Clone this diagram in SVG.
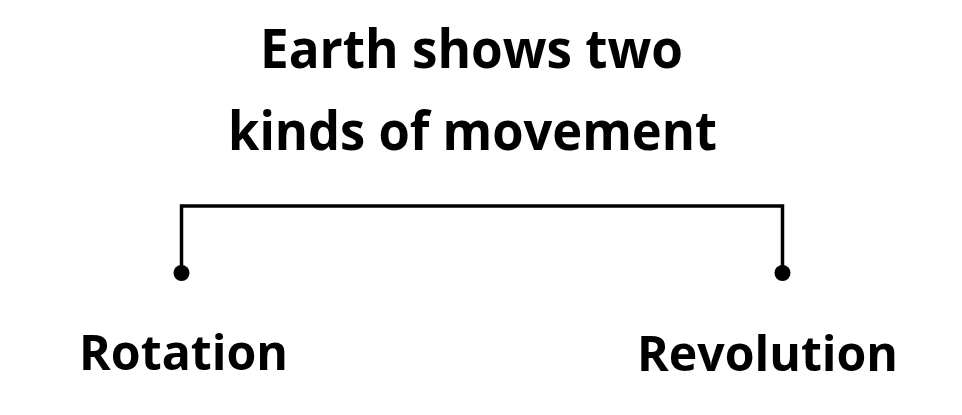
<svg xmlns="http://www.w3.org/2000/svg" width="962" height="415" viewBox="0 0 962 415">
<style>
.t{font-family:"Open Sans","Liberation Sans",sans-serif;font-weight:700;fill:#000;}
.c{fill:none;stroke:#000;stroke-width:3.5;stroke-linecap:square;}
.d{fill:#000;}
</style>
<rect width="962" height="415" fill="#fff"/>
<g id="title">
<text class="t" x="260" y="68" font-size="54" textLength="423" lengthAdjust="spacingAndGlyphs">Earth shows two</text>
<text class="t" x="228" y="150" font-size="54" textLength="489" lengthAdjust="spacingAndGlyphs">kinds of movement</text>
</g>
<g id="connectors">
<path class="c" d="M181.5,272 V206 H782.5 V272"/>
<circle class="d" cx="181.5" cy="273" r="8"/>
<circle class="d" cx="782.5" cy="273" r="8"/>
</g>
<g id="rotation">
<text class="t" x="79" y="370" font-size="48" textLength="209" lengthAdjust="spacingAndGlyphs">Rotation</text>
</g>
<g id="revolution">
<text class="t" x="637" y="371" font-size="48" textLength="261" lengthAdjust="spacingAndGlyphs">Revolution</text>
</g>
</svg>
